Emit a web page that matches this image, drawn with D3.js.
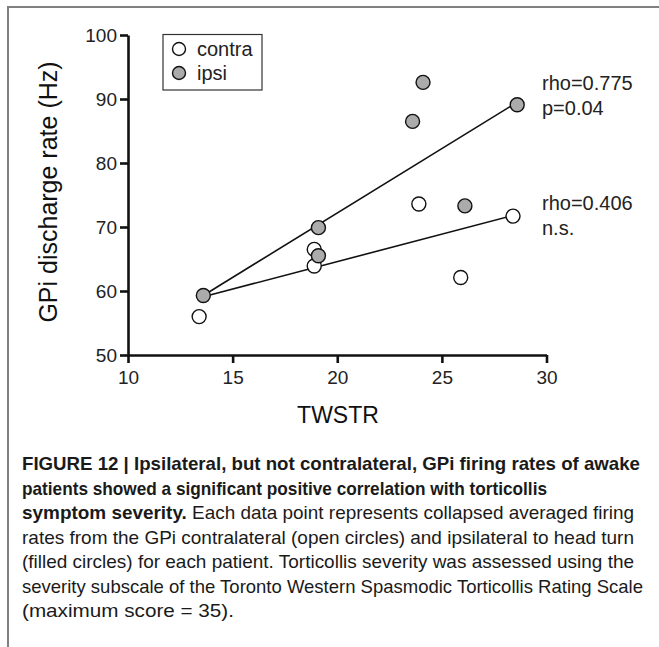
<!DOCTYPE html>
<html lang="en">
<head>
<meta charset="UTF-8" />
<title>Figure 12</title>
<script src="https://cdn.jsdelivr.net/npm/d3@7"></script>
<style>
  body { margin: 0; background: #fff; }
  svg { display: block; font-family: "Liberation Sans", Arial, sans-serif; }
  .axis path, .axis line { stroke: #111; stroke-width: 2.6; }
  .axis text { font-size: 19px; fill: #222; }
</style>
</head>
<body>
<svg id="fig" width="659" height="647"></svg>
<script>
  // data
  const contraX = [13.4, 18.9, 18.9, 23.9, 25.9, 28.4];
  const contraY = [56.0, 66.5, 63.9, 73.6, 62.1, 71.7];
  const ipsiX = [13.6, 19.1, 19.1, 23.6, 24.1, 26.1, 28.6];
  const ipsiY = [59.3, 69.9, 65.5, 86.5, 92.6, 73.3, 89.1];
  // fitted lines (end points)
  const ipsiFitX = [13.6, 28.5];
  const ipsiFitY = [59.3, 89.3];
  const contraFitX = [13.6, 28.4];
  const contraFitY = [59.1, 71.8];
  const xTicks = [10, 15, 20, 25, 30];
  const yTicks = [50, 60, 70, 80, 90, 100];
  const ipsiStats = ['rho=0.775', 'p=0.04'];
  const contraStats = ['rho=0.406', 'n.s.'];
  const caption = [
    [['FIGURE 12 | Ipsilateral, but not contralateral, GPi firing rates of awake', true]],
    [['patients showed a significant positive correlation with torticollis', true]],
    [['symptom severity.', true], [' Each data point represents collapsed averaged firing', false]],
    [['rates from the GPi contralateral (open circles) and ipsilateral to head turn', false]],
    [['(filled circles) for each patient. Torticollis severity was assessed using the', false]],
    [['severity subscale of the Toronto Western Spasmodic Torticollis Rating Scale', false]],
    [['(maximum score = 35).', false]]
  ];
  const captionWidths = [618, 525, 612, 612, 612, 621, 212];

  const svg = d3.select('#fig');

  // frame
  svg.append('path').attr('d', 'M8,647V7H659')
     .attr('fill', 'none').attr('stroke', '#808080').attr('stroke-width', 2);

  const x = d3.scaleLinear().domain([10, 30]).range([128, 546.5]);
  const y = d3.scaleLinear().domain([50, 100]).range([355, 35]);

  svg.append('g').attr('class', 'axis').attr('transform', 'translate(0,355)')
     .call(d3.axisBottom(x).tickValues(xTicks).tickSize(8).tickSizeOuter(0).tickPadding(4))
     .call(g => g.selectAll('text').attr('dy', '0.9em'));
  svg.append('g').attr('class', 'axis').attr('transform', 'translate(128,0)')
     .call(d3.axisLeft(y).tickValues(yTicks).tickSize(8).tickSizeOuter(0).tickPadding(3))
     .call(g => g.selectAll('text').attr('dy', '0.36em'));

  svg.append('text').attr('x', 338).attr('y', 423).attr('text-anchor', 'middle')
     .attr('font-size', 23).attr('fill', '#111').text('TWSTR');
  svg.append('text').attr('transform', 'translate(57,192) rotate(-90)')
     .attr('text-anchor', 'middle').attr('font-size', 25).attr('fill', '#111')
     .text('GPi discharge rate (Hz)');

  // fit lines
  const line = d3.line().x(d => x(d[0])).y(d => y(d[1]));
  [[ipsiFitX, ipsiFitY], [contraFitX, contraFitY]].forEach(([fx, fy]) => {
    svg.append('path').datum(d3.zip(fx, fy)).attr('d', line)
       .attr('fill', 'none').attr('stroke', '#111').attr('stroke-width', 1.6);
  });

  // points
  svg.append('g').selectAll('circle').data(d3.zip(contraX, contraY)).join('circle')
     .attr('cx', d => x(d[0])).attr('cy', d => y(d[1])).attr('r', 7)
     .attr('fill', '#fff').attr('stroke', '#111').attr('stroke-width', 1.4);
  svg.append('g').selectAll('circle').data(d3.zip(ipsiX, ipsiY)).join('circle')
     .attr('cx', d => x(d[0])).attr('cy', d => y(d[1])).attr('r', 7)
     .attr('fill', '#ababab').attr('stroke', '#111').attr('stroke-width', 1.4);

  // stats
  const stat = (lines, y0) => lines.forEach((t, i) =>
    svg.append('text').attr('x', 542).attr('y', y0 + i * 24.5)
       .attr('font-size', 20).attr('fill', '#222').text(t));
  stat(ipsiStats, 90);
  stat(contraStats, 210);

  // legend
  const lg = svg.append('g');
  lg.append('rect').attr('x', 163).attr('y', 34.5).attr('width', 99).attr('height', 55.5)
    .attr('fill', '#fff').attr('stroke', '#333').attr('stroke-width', 1.2);
  [['contra', '#fff', 49], ['ipsi', '#ababab', 73]].forEach(([t, f, cy]) => {
    lg.append('circle').attr('cx', 179).attr('cy', cy).attr('r', 6.5)
      .attr('fill', f).attr('stroke', '#111').attr('stroke-width', 1.4);
    lg.append('text').attr('x', 197).attr('y', cy + 7).attr('font-size', 20)
      .attr('fill', '#222').text(t);
  });

  // caption
  const cap = svg.append('g').attr('font-size', 19).attr('fill', '#1a1a1a');
  caption.forEach((parts, i) => {
    const t = cap.append('text').attr('x', 22).attr('y', 470 + i * 24.5)
      .attr('textLength', captionWidths[i]).attr('lengthAdjust', 'spacingAndGlyphs');
    parts.forEach(([s, b]) => t.append('tspan').attr('font-weight', b ? 'bold' : 'normal').text(s));
  });
</script>
</body>
</html>
